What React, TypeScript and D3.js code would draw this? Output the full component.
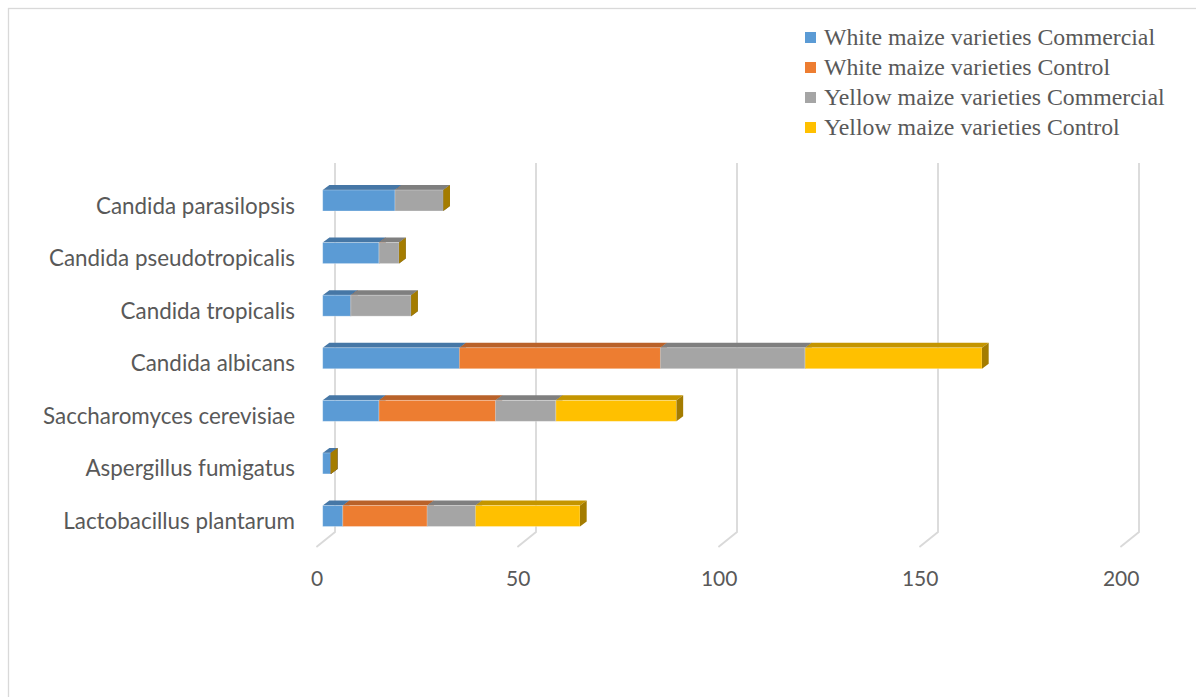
import React from "react";
import * as d3 from "d3";

const categories = [
  "Candida parasilopsis",
  "Candida pseudotropicalis",
  "Candida tropicalis",
  "Candida albicans",
  "Saccharomyces cerevisiae",
  "Aspergillus fumigatus",
  "Lactobacillus plantarum",
];

const seriesNames = [
  "White maize varieties Commercial",
  "White maize varieties Control",
  "Yellow maize varieties Commercial",
  "Yellow maize varieties Control",
];

const whiteCommercial = [18, 14, 7, 34, 14, 2, 5];
const whiteControl = [0, 0, 0, 50, 29, 0, 21];
const yellowCommercial = [12, 5, 15, 36, 15, 0, 12];
const yellowControl = [0, 0, 0, 44, 30, 0, 26];

const xTicks = [0, 50, 100, 150, 200];

const frontColors = ["#5B9BD5", "#ED7D31", "#A5A5A5", "#FFC000"];
const topColors = ["#4677A6", "#B9622A", "#7F7F7F", "#C49500"];
const sideColors = ["#3E6B94", "#A55624", "#707070", "#A47C00"];

const W = 1196;
const H = 697;

export default function App() {
  const series = [whiteCommercial, whiteControl, yellowCommercial, yellowControl];

  const x = d3.scaleLinear().domain([0, 200]).range([322.7, 1126.7]);
  const y = d3.scalePoint<string>().domain(categories).range([200.5, 516]);

  const barH = 21;
  const depthX = 6.7;
  const depthY = -5;
  const wallDX = 12.3; // back wall offset from bar front
  const floorDX = -6.3; // front edge of floor offset from bar front
  const wallBottom = 532;
  const floorFront = 547;
  const wallTop = 163;

  const stacked = d3
    .stack<number>()
    .keys(d3.range(series.length) as any)
    .value((_d, k: any) => series[k][_d as any])(d3.range(categories.length) as any);

  const labelColor = "#595959";
  const sansFont = "Lato, 'Open Sans', sans-serif";

  return (
    <svg
      width={W}
      height={H}
      style={{ position: "absolute", left: 0, top: 0, background: "#fff" }}
    >
      <rect x={8.5} y={8.5} width={W + 10} height={H + 10} fill="#fff" stroke="#d9d9d9" strokeWidth={1.3} />

      {/* gridlines: back wall verticals folding onto the floor */}
      {xTicks.map((t) => {
        const xb = x(t) + wallDX;
        const xf = x(t) + floorDX;
        return (
          <polyline
            key={t}
            points={`${xb},${wallTop} ${xb},${wallBottom} ${xf},${floorFront}`}
            fill="none"
            stroke="#d9d9d9"
            strokeWidth={1.8}
          />
        );
      })}

      {/* stacked 3D bars */}
      {categories.map((c, i) => {
        const yc = y(c)!;
        const y0 = yc - barH / 2;
        const y1 = yc + barH / 2;
        return (
          <g key={c}>
            {stacked.map((layer, k) => {
              const [a, b] = layer[i];
              const xa = x(a);
              const xb = x(b);
              return (
                <g key={k}>
                  {b > a && (
                    <polygon
                      points={`${xa},${y0} ${xa + depthX},${y0 + depthY} ${xb + depthX},${y0 + depthY} ${xb},${y0}`}
                      fill={topColors[k]}
                    />
                  )}
                  {b > a && (
                    <rect
                      x={xa}
                      y={y0}
                      width={xb - xa}
                      height={barH}
                      fill={frontColors[k]}
                      stroke="rgba(255,255,255,0.35)"
                      strokeWidth={0.8}
                    />
                  )}
                  <polygon
                    points={`${xb},${y0} ${xb + depthX},${y0 + depthY} ${xb + depthX},${y1 + depthY} ${xb},${y1}`}
                    fill={sideColors[k]}
                  />
                </g>
              );
            })}
            <text
              x={295}
              y={yc + 13}
              textAnchor="end"
              fontFamily={sansFont}
              fontSize={22.4}
              fill={labelColor}
            >
              {c}
            </text>
          </g>
        );
      })}

      {/* value axis labels */}
      {xTicks.map((t) => (
        <text
          key={t}
          x={x(t) - 5.5}
          y={586}
          textAnchor="middle"
          fontFamily={sansFont}
          fontSize={21}
          fill={labelColor}
        >
          {t}
        </text>
      ))}

      {/* legend */}
      {seriesNames.map((name, k) => (
        <g key={name} transform={`translate(805, ${37 + k * 30})`}>
          <rect x={0} y={-5} width={11} height={11} fill={frontColors[k]} />
          <text
            x={19}
            y={8}
            fontFamily="'Liberation Serif', 'Times New Roman', serif"
            fontSize={23.8}
            fill={labelColor}
          >
            {name}
          </text>
        </g>
      ))}
    </svg>
  );
}
